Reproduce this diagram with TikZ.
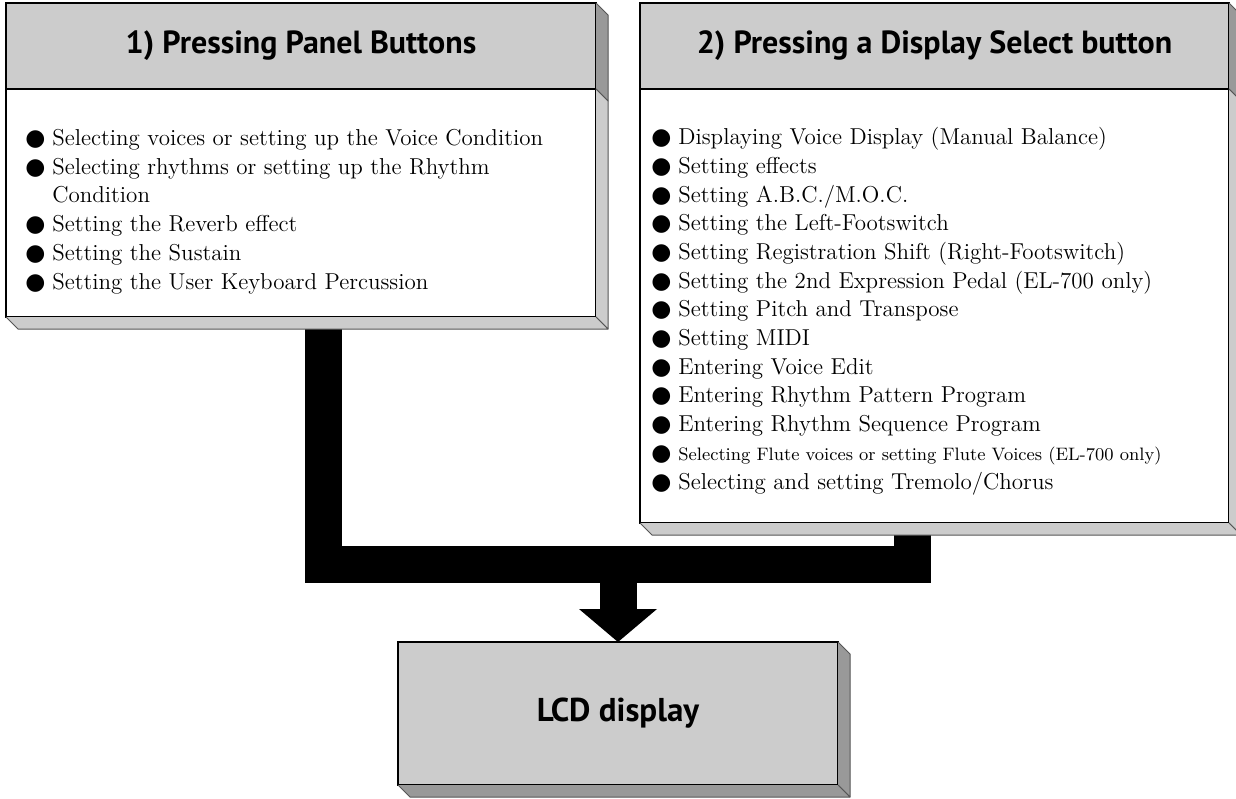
\documentclass[tikz,border=0pt]{standalone}
\usepackage{fontspec}
\setsansfont{PT Sans}
\newfontfamily\symfont{DejaVu Sans}
\usepackage{tikz}
\usetikzlibrary{arrows.meta, positioning, calc, backgrounds}
\definecolor{facegray}{HTML}{CCCCCC}
\definecolor{sidegray}{HTML}{999999}
\definecolor{edgegray}{HTML}{555555}
\tikzstyle{frontbox} = [rectangle, draw=black, line width=0.7pt, inner sep=0pt, outer sep=0pt]
\tikzstyle{headbox} = [frontbox, fill=facegray, minimum height=43pt, font=\sffamily\bfseries\fontsize{16}{19}\selectfont]
\tikzstyle{listtext} = [align=left, inner sep=0pt, anchor=north west, font=\fontsize{11.5}{14.35}\selectfont]
\tikzstyle{slab} = [draw=edgegray, line width=0.5pt, line join=round]
\tikzstyle{bus} = [line width=18.5pt, draw=black, line join=miter]
\newcommand{\blt}{\makebox[13.5pt][l]{\symfont\fontsize{11.5}{11.5}\selectfont ●}}
\newcommand{\depthface}[3]{\filldraw[slab, fill=#3] (#1) -- ++(6pt,-6pt) -- ($(#2)+(6pt,-6pt)$) -- (#2);}

\begin{document}
\begin{tikzpicture}[x=0.5pt, y=-0.5pt]
    \useasboundingbox (0,0) rectangle (1236,798);
    \clip (0,0) rectangle (1236,798);

    % Panel buttons box
    \node[frontbox, fill=white, minimum width=295pt, minimum height=157pt] (panel) at (301,160) {};
    \node[headbox, minimum width=295pt, anchor=north] (panelhead) at (panel.north) {1) Pressing Panel Buttons};
    \node[listtext] (panellist) at (25,129) {%
        \blt Selecting voices or setting up the Voice Condition\\
        \blt Selecting rhythms or setting up the Rhythm\\
        \hspace*{13.5pt}Condition\\
        \blt Setting the Reverb effect\\
        \blt Setting the Sustain\\
        \blt Setting the User Keyboard Percussion};

    % Display select box
    \node[frontbox, fill=white, minimum width=294.5pt, minimum height=260pt] (display) at (934.5,263) {};
    \node[headbox, minimum width=294.5pt, anchor=north] (displayhead) at (display.north) {2) Pressing a Display Select button};
    \node[listtext] (displaylist) at (651,127) {%
        \blt Displaying Voice Display (Manual Balance)\\
        \blt Setting effects\\
        \blt Setting A.B.C./M.O.C.\\
        \blt Setting the Left-Footswitch\\
        \blt Setting Registration Shift (Right-Footswitch)\\
        \blt Setting the 2nd Expression Pedal (EL-700 only)\\
        \blt Setting Pitch and Transpose\\
        \blt Setting MIDI\\
        \blt Entering Voice Edit\\
        \blt Entering Rhythm Pattern Program\\
        \blt Entering Rhythm Sequence Program\\
        \blt{\fontsize{9}{14.35}\selectfont Selecting Flute voices or setting Flute Voices (EL-700 only)}\\
        \blt Selecting and setting Tremolo/Chorus};

    % LCD box
    \node[frontbox, fill=facegray, minimum width=220pt, minimum height=71.5pt, font=\sffamily\bfseries\fontsize{16.5}{19}\selectfont] (lcd) at (618,713.5) {LCD display};

    % 3D depth faces
    \depthface{panel.north east}{panelhead.south east}{sidegray}
    \depthface{panelhead.south east}{panel.south east}{facegray}
    \depthface{panel.south west}{panel.south east}{facegray}
    \depthface{display.north east}{displayhead.south east}{sidegray}
    \depthface{displayhead.south east}{display.south east}{facegray}
    \depthface{display.south west}{display.south east}{facegray}
    \depthface{lcd.north east}{lcd.south east}{sidegray}
    \depthface{lcd.south west}{lcd.south east}{sidegray}

    % Connectors
    \path (display.south) ++(-11.25pt,-20.75pt) coordinate (merge);
    \begin{scope}[on background layer]
        \draw[bus] ([xshift=11pt]panel.south) |- (merge) -- ([xshift=-11.25pt]display.south);
        \draw[bus, -{Triangle[length=16.5pt, width=39pt, line width=0pt]}] (lcd.north |- merge) -- (lcd.north);
    \end{scope}
\end{tikzpicture}
\end{document}
